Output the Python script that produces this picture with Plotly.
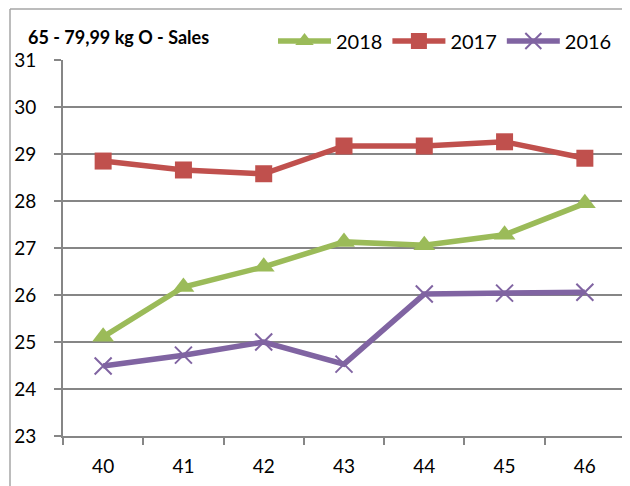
import plotly.graph_objects as go

categories = ["40", "41", "42", "43", "44", "45", "46"]
s2018 = [25.11, 26.17, 26.60, 27.13, 27.06, 27.28, 27.95]
s2017 = [28.85, 28.66, 28.58, 29.17, 29.17, 29.26, 28.91]
s2016 = [24.49, 24.72, 25.00, 24.53, 26.02, 26.04, 26.06]
y_ticks = [23, 24, 25, 26, 27, 28, 29, 30, 31]
title_text = "65 - 79,99 kg O - Sales"

FONT = "Lato"
W, H = 630, 486
OFF = 8  # page body margin offset
# plot area in page coords: x 63..625, y 60..436
L = 63 - OFF
T = 60 - OFF
R = W - (625 - OFF)
B = H - (436 - OFF)
pw, ph = W - L - R, H - T - B

def px(x):  # page x -> paper
    return (x - OFF - L) / pw

def py(y):  # page y -> paper
    return (H - B - (y - OFF)) / ph

fig = go.Figure()
fig.add_trace(go.Scatter(x=categories, y=s2018, name="2018", mode="lines+markers",
                         line=dict(color="#9BBB59", width=5.5),
                         marker=dict(symbol="triangle-up", size=19, color="#9BBB59")))
fig.add_trace(go.Scatter(x=categories, y=s2017, name="2017", mode="lines+markers",
                         line=dict(color="#C0504D", width=5.5),
                         marker=dict(symbol="square", size=17, color="#C0504D")))
fig.add_trace(go.Scatter(x=categories, y=s2016, name="2016", mode="lines+markers",
                         line=dict(color="#8064A2", width=5.5),
                         marker=dict(symbol="x-thin-open", size=17,
                                     line=dict(color="#8064A2", width=2))))

shapes = [
    dict(type="line", xref="paper", yref="paper", x0=px(10), x1=px(10), y0=py(9), y1=py(500),
         line=dict(color="#A6A6A6", width=1.5)),
    dict(type="line", xref="paper", yref="paper", x0=px(10), x1=px(625), y0=py(9), y1=py(9),
         line=dict(color="#A6A6A6", width=1.5)),
    dict(type="line", xref="paper", yref="paper", x0=px(625), x1=px(625), y0=py(9), y1=py(500),
         line=dict(color="#A6A6A6", width=1.5)),
]

fig.update_layout(
    width=W, height=H,
    margin=dict(l=L, r=R, t=T, b=B, autoexpand=False),
    paper_bgcolor="white", plot_bgcolor="white",
    font=dict(family=FONT, size=19, color="black"),
    showlegend=True,
    legend=dict(orientation="h", x=px(617), xanchor="right", y=py(41), yanchor="middle",
                font=dict(family=FONT, size=20), bgcolor="rgba(0,0,0,0)",
                itemwidth=53, tracegroupgap=0),
    annotations=[dict(text="<b>" + title_text + "</b>", xref="paper", yref="paper",
                      x=px(26), y=py(37), xanchor="left", yanchor="middle", showarrow=False,
                      font=dict(family=FONT, size=18, color="black"))],
    shapes=shapes,
    xaxis=dict(type="category", showgrid=False, showline=True, linecolor="#868686", linewidth=2,
               ticks="outside", tickson="boundaries", ticklen=7, tickcolor="#868686", tickwidth=2,
               range=[-0.5, 6.5], tickfont=dict(size=19), ticklabelstandoff=12),
    yaxis=dict(range=[23, 31], tickvals=y_ticks, showgrid=True, gridcolor="#868686", gridwidth=2,
               showline=True, linecolor="#868686", linewidth=2, ticks="outside", ticklen=7,
               tickcolor="#868686", tickwidth=2, tickfont=dict(size=19), zeroline=False,
               ticklabelstandoff=14),
)

fig.write_html("out.html")
